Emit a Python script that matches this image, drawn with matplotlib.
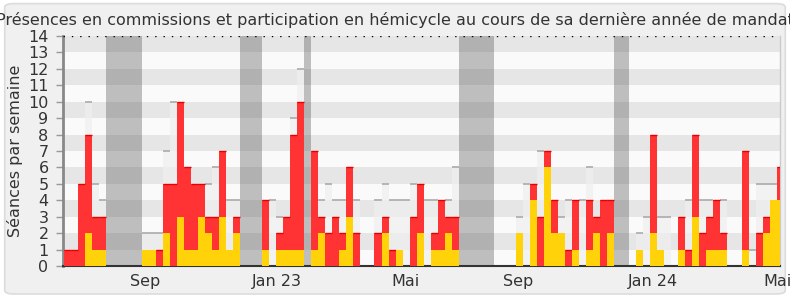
import numpy as np
import matplotlib.pyplot as plt
from matplotlib.patches import FancyBboxPatch

plt.rcParams["font.family"] = "DejaVu Sans"

TITLE = ("Présences en commissions et participation en hémicycle "
         "au cours de sa dernière année de mandat")
Y_LABEL = "Séances par semaine"

# one value per week, weeks 0..101
PRESENCE = [1, 1, 5, 8, 3, 3, 0, 0, 0, 0, 0, 1, 1, 1, 5, 5, 10, 6, 5, 5,
            3, 3, 7, 1, 3, 0, 0, 0, 4, 0, 2, 3, 8, 10, 0, 7, 3, 2, 3, 2,
            6, 2, 0, 0, 2, 3, 1, 1, 0, 3, 5, 0, 2, 4, 3, 3, 0, 0, 0, 0,
            0, 0, 0, 0, 2, 0, 5, 3, 7, 4, 2, 1, 4, 0, 4, 3, 4, 4, 0, 0,
            0, 1, 0, 8, 1, 0, 0, 3, 1, 8, 2, 3, 4, 2, 0, 0, 7, 0, 2, 3,
            4, 6]
HEMICYCLE = [0, 0, 0, 2, 1, 1, 0, 0, 0, 0, 0, 1, 1, 0, 2, 0, 3, 1, 1, 3,
             2, 1, 3, 1, 2, 0, 0, 0, 1, 0, 1, 1, 1, 1, 0, 1, 2, 0, 0, 1,
             3, 0, 0, 0, 0, 2, 0, 1, 0, 0, 2, 0, 1, 1, 2, 1, 0, 0, 0, 0,
             0, 0, 0, 0, 2, 0, 4, 0, 6, 2, 2, 0, 1, 0, 1, 2, 0, 2, 0, 0,
             0, 1, 0, 2, 1, 0, 0, 1, 0, 3, 0, 1, 1, 1, 0, 0, 1, 0, 0, 2,
             4, 4]
# faint grey bars (overall activity reference)
REFERENCE = [0, 0, 0, 10, 5, 4, 0, 0, 0, 0, 0, 2, 2, 2, 7, 10, 0, 0, 0, 0,
             5, 6, 0, 4, 4, 0, 0, 0, 0, 4, 3, 0, 9, 12, 0, 0, 4, 5, 4, 4,
             0, 4, 0, 0, 4, 5, 4, 4, 4, 5, 0, 4, 4, 0, 4, 6, 0, 0, 0, 0,
             0, 0, 0, 0, 3, 5, 0, 7, 0, 0, 3, 4, 0, 4, 6, 0, 0, 0, 0, 0,
             0, 2, 3, 0, 3, 3, 0, 0, 4, 0, 4, 4, 0, 4, 0, 0, 0, 1, 5, 5,
             5, 0]
VACATIONS = [(6, 11), (25, 28), (34, 35), (56, 61), (78, 80)]
MONTH_POS = [11.47, 30.17, 48.44, 64.3, 83.4, 101.1]
MONTH_LABELS = ["Sep", "Jan 23", "Mai", "Sep", "Jan 24", "Mai"]

RED = "#ff3333"
YELLOW = "#ffd20a"
TXT = "#333333"
FS = 11.5

weeks = np.arange(len(PRESENCE))
pres = np.array(PRESENCE)
hemi = np.array(HEMICYCLE)
ref = np.array(REFERENCE)

fig = plt.figure(figsize=(7.9, 3.0), dpi=100)
fig.patch.set_facecolor("white")
fig.patches.append(FancyBboxPatch((0.006, 0.02), 0.988, 0.968,
                                  boxstyle="round,pad=0,rounding_size=0.012",
                                  transform=fig.transFigure, facecolor="#f0f0f0",
                                  edgecolor="#dcdcdc", lw=1.2, zorder=-5))
ax = fig.add_axes([62.5 / 790, 34 / 300, 717.5 / 790, 230 / 300])

# striped background
for k in range(14):
    ax.axhspan(k, k + 1, color="#e6e6e6" if k % 2 else "#fafafa", lw=0, zorder=0)

for start, end in VACATIONS:
    ax.axvspan(start, end, color="#464646", alpha=0.33, lw=0, zorder=1)

ax.bar(weeks, ref, width=1, align="edge", color="#efefef", alpha=0.67, lw=0, zorder=2)
m = ref > 0
ax.hlines(ref[m], weeks[m], weeks[m] + 1, color="#aaaaaa", lw=1.2, zorder=2.5)

ax.bar(weeks, pres, width=1, align="edge", color=RED, lw=0, zorder=3)
m = pres > hemi
ax.hlines(pres[m], weeks[m], weeks[m] + 1, color="#e80000", lw=1, zorder=3.5)

ax.bar(weeks, hemi, width=1, align="edge", color=YELLOW, lw=0, zorder=4)

ax.axhline(14, color="black", ls=(0, (1, 5)), lw=1, zorder=5)

ax.set_xlim(-0.2, 101.45)
ax.set_ylim(0, 14)
ax.set_yticks(range(15))
ax.tick_params(axis="y", length=5, width=1, color="#999999", pad=5,
               labelsize=FS, labelcolor=TXT)
ax.set_xticks(MONTH_POS, MONTH_LABELS)
ax.tick_params(axis="x", length=0, pad=6, labelsize=FS, labelcolor=TXT)
ax.set_ylabel(Y_LABEL, fontsize=FS, color=TXT, labelpad=4)

ax.spines["top"].set_visible(False)
ax.spines["left"].set_color("#888888")
ax.spines["left"].set_linewidth(2)
ax.spines["bottom"].set_color("#333333")
ax.spines["bottom"].set_linewidth(1.5)
ax.spines["right"].set_color("#cccccc")
ax.spines["right"].set_linewidth(1)

fig.text(0.5, 0.932, TITLE, ha="center", va="center", fontsize=FS, color=TXT)

fig.savefig("out.png", dpi=100)
